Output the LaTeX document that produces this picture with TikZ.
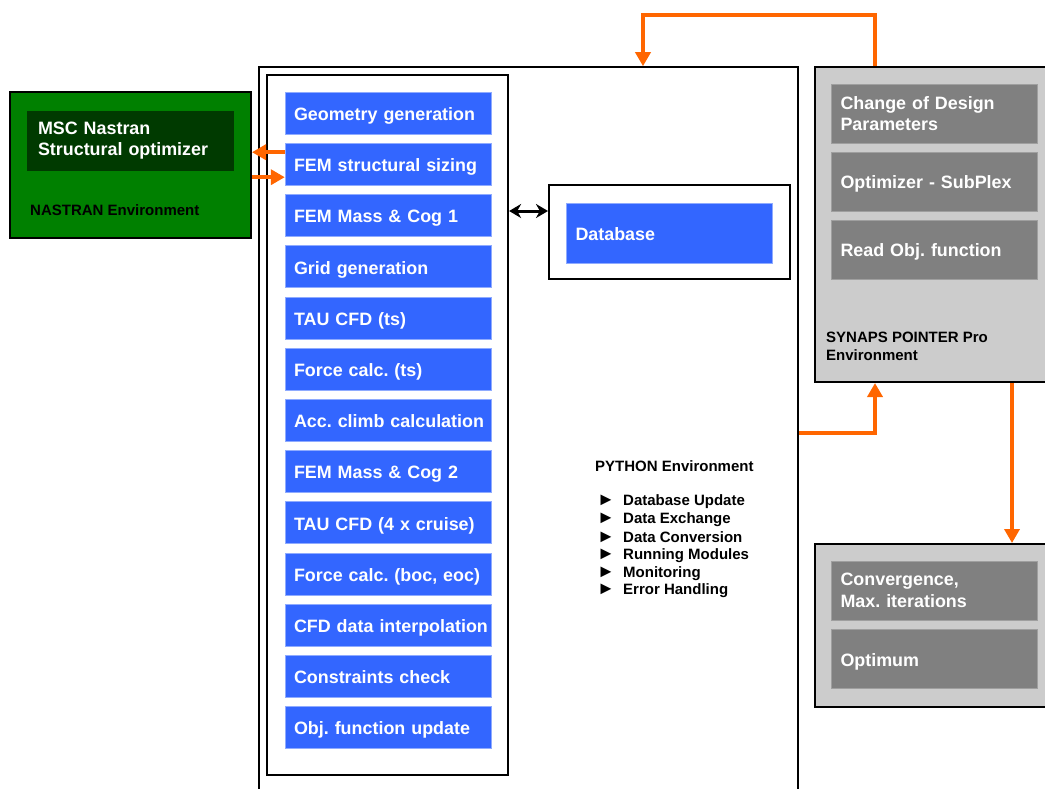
\documentclass[tikz,border=0pt]{standalone}
\usepackage{fontspec}
\setmainfont{Liberation Sans}
\usetikzlibrary{positioning}
\usetikzlibrary{arrows.meta,shapes}
\usetikzlibrary{calc}
\frenchspacing
\definecolor{modblue}{RGB}{51,102,255}
\definecolor{modgray}{RGB}{128,128,128}
\definecolor{envgray}{RGB}{204,204,204}
\definecolor{nasgreen}{RGB}{0,128,0}
\definecolor{nasdark}{RGB}{0,58,0}
\definecolor{flowc}{RGB}{255,102,0}
\newcommand{\bigtxt}{\fontsize{17.9}{21.5}\selectfont\bfseries}
\newcommand{\smalltxt}{\fontsize{15}{17.8}\selectfont\bfseries}
\newcommand{\listmark}{\makebox[26pt][l]{\smash{\fontsize{18}{18}\selectfont ►}}}
\tikzstyle{module}=[rectangle,fill=modblue,draw=modblue!55!white,thin,minimum width=206pt,minimum height=42pt,text width=188pt,inner xsep=9pt,align=left,text=white,font=\bigtxt,text height=14.8pt,text depth=0pt]
\tikzstyle{graymodule}=[module,fill=modgray,draw=gray!75,minimum height=59pt]
\tikzstyle{twolines}=[text height=,text depth=]
\tikzstyle{envbox}=[rectangle,draw=black,line width=2pt,inner sep=0pt]
\tikzstyle{envlabel}=[font=\smalltxt,align=left,inner sep=0pt,anchor=west]
\tikzstyle{flowedge}=[draw=flowc,line width=3.5pt,-{Triangle[length=14pt,width=15pt]}]
\tikzstyle{dbedge}=[draw,line width=3pt,{Stealth[length=12pt,width=14pt]}-{Stealth[length=12pt,width=14pt]}]
\begin{document}
\begin{tikzpicture}[x=1pt,y=-1pt]
    \useasboundingbox (0,0) rectangle (1045,788);

    % environments
    \node[envbox,fill=white,line width=1.6pt,minimum width=539pt,minimum height=732pt] (python) at (528.5,433) {};
    \node[envbox,fill=white,line width=2.2pt,minimum width=241pt,minimum height=700pt] (stack) at (387.5,425) {};
    \node[envbox,fill=white,minimum width=241pt,minimum height=94pt] (dbbox) at (669.5,232) {};
    \node[envbox,fill=nasgreen,minimum width=241pt,minimum height=146pt] (nastran) at (130.5,165) {};
    \node[envbox,fill=envgray,minimum width=245pt,minimum height=315pt] (synaps) at (937.5,224.5) {};
    \node[envbox,fill=envgray,minimum width=245pt,minimum height=163pt] (result) at (937.5,625.5) {};

    % process chain
    \foreach \i/\name/\txt in {0/geom/Geometry generation, 1/sizing/FEM structural sizing, 2/mass1/FEM Mass \& Cog 1, 3/grid/Grid generation, 4/cfdts/TAU CFD (ts), 5/forcets/Force calc. (ts), 6/climb/Acc. climb calculation, 7/mass2/FEM Mass \& Cog 2, 8/cfdcr/TAU CFD (4 x cruise), {9/forcebe/Force calc. (boc, eoc)}, 10/interp/CFD data interpolation, 11/constr/Constraints check, 12/objfun/Obj. function update}
        \node[module] (\name) at (388,{113+51.2*\i}) {\mbox{\txt}};

    \node[module,minimum width=205pt,minimum height=60pt] (db) at (669.5,233) {Database};
    \node[module,twolines,fill=nasdark,draw=nasdark,minimum height=59pt,inner xsep=10pt,text width=185pt] (msc) at (130.5,140.5) {MSC Nastran\\Structural optimizer};
    \node[envlabel] (nastranlbl) at (30,210) {NASTRAN Environment};

    \node[graymodule,twolines] (change) at (934.5,113.5) {Change of Design\\Parameters};
    \foreach \i/\name/\txt in {1/subplex/Optimizer - SubPlex, 2/readobj/Read Obj. function}
        \node[graymodule] (\name) at (934.5,{113.5+68*\i}) {\txt};
    \node[envlabel] (synapslbl) at (826,346) {SYNAPS POINTER Pro\\Environment};

    \node[graymodule,twolines] (conv) at (934.5,590.5) {Convergence,\\Max. iterations};
    \node[graymodule] (optimum) at (934.5,659) {Optimum};

    \node[envlabel] (pylbl) at (595,466) {PYTHON Environment};
    \foreach \i/\txt in {0/Database Update, 1/Data Exchange, 2/Data Conversion, 3/Running Modules, 4/Monitoring, 5/Error Handling}
        \node[envlabel] (item\i) at (597,{502+17.8*\i}) {\listmark\txt};

    % connectors
    \coordinate (loopup) at (875,15);
    \coordinate (loopdown) at (643,15);
    \coordinate (outx) at (1012,460);
    \draw[flowedge] (synaps.north -| loopup) -- (loopup) -- (loopdown) -- (python.north -| loopdown);
    \draw[flowedge] (python.east) -| (synaps.south -| loopup);
    \draw[flowedge] (synaps.south -| outx) -- (result.north -| outx);
    \draw[flowedge] ($(sizing.west)+(0,-12)$) -- ($(sizing.west -| nastran.east)+(0,-12)$);
    \draw[flowedge] ($(sizing.west -| nastran.east)+(0,13)$) -- ($(sizing.west)+(0,13)$);
    \draw[dbedge] ($(dbbox.west -| stack.east)+(0,-21)$) -- ($(dbbox.west)+(0,-21)$);

\end{tikzpicture}
\end{document}
